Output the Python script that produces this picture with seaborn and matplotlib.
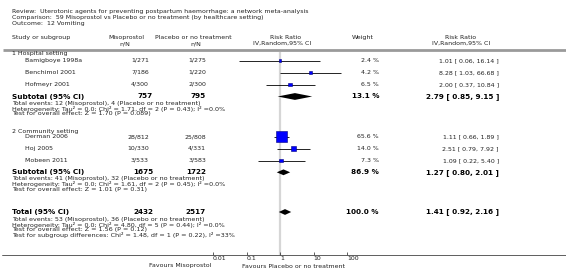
import matplotlib.pyplot as plt
import seaborn as sns
import numpy as np

# study level data
studies = ['Bamigboye 1998a', 'Benchimol 2001', 'Hofmeyr 2001',
           'Derman 2006', 'Hoj 2005', 'Mobeen 2011']
miso_nN = ['1/271', '7/186', '4/300', '28/812', '10/330', '3/533']
plac_nN = ['1/275', '1/220', '2/300', '25/808', '4/331', '3/583']
weights = [2.4, 4.2, 6.5, 65.6, 14.0, 7.3]
rr = [1.01, 8.28, 2.00, 1.11, 2.51, 1.09]
rr_lo = [0.06, 1.03, 0.37, 0.66, 0.79, 0.22]
rr_hi = [16.14, 66.68, 10.84, 1.89, 7.92, 5.40]

# pooled (hospital subtotal, community subtotal, total)
pool_labels = ['Subtotal (95% CI)', 'Subtotal (95% CI)', 'Total (95% CI)']
pool_miso_N = ['757', '1675', '2432']
pool_plac_N = ['795', '1722', '2517']
pool_weight = [13.1, 86.9, 100.0]
pool_rr = [2.79, 1.27, 1.41]
pool_lo = [0.85, 0.80, 0.92]
pool_hi = [9.15, 2.01, 2.16]

groups = ['1 Hospital setting', '2 Community setting']
footnotes = [
    ['Total events: 12 (Misoprostol), 4 (Placebo or no treatment)',
     'Heterogeneity: Tau\u00b2 = 0.0; Chi\u00b2 = 1.71, df = 2 (P = 0.43); I\u00b2 =0.0%',
     'Test for overall effect: Z = 1.70 (P = 0.089)'],
    ['Total events: 41 (Misoprostol), 32 (Placebo or no treatment)',
     'Heterogeneity: Tau\u00b2 = 0.0; Chi\u00b2 = 1.61, df = 2 (P = 0.45); I\u00b2 =0.0%',
     'Test for overall effect: Z = 1.01 (P = 0.31)'],
    ['Total events: 53 (Misoprostol), 36 (Placebo or no treatment)',
     'Heterogeneity: Tau\u00b2 = 0.0; Chi\u00b2 = 4.80, df = 5 (P = 0.44); I\u00b2 =0.0%',
     'Test for overall effect: Z = 1.56 (P = 0.12)',
     'Test for subgroup differences: Chi\u00b2 = 1.48, df = 1 (P = 0.22), I\u00b2 =33%'],
]
title_lines = [
    'Review:  Uterotonic agents for preventing postpartum haemorrhage: a network meta-analysis',
    'Comparison:  59 Misoprostol vs Placebo or no treatment (by healthcare setting)',
    'Outcome:  12 Vomiting',
]
xtick_vals = [0.01, 0.1, 1, 10, 100]
xtick_labels = ['0.01', '0.1', '1', '10', '100']

# layout (pixel rows, top = 0)
W, H = 566, 272
group_y = [53.5, 131]
study_y = [60.5, 72.5, 84.5, 136.7, 148.5, 160.5]
pool_y = [96.5, 172.3, 212]
foot_y = [[103, 108.5, 114], [178.5, 184, 189.5], [219, 224.5, 230, 235.5]]
axis_y = 255

sns.set_theme(style='white')
plt.rcParams['font.family'] = ['DejaVu Sans']

fig = plt.figure(figsize=(W / 100, H / 100), dpi=100)
tx = fig.add_axes([0, 0, 1, 1])
tx.set_xlim(0, W)
tx.set_ylim(H, 0)
tx.axis('off')

TC = '#222222'
FS = 4.5
FSB = 5.2
FSF = 4.6


def put(x, y, s, ha='left', size=FS, bold=False, color=TC):
    tx.text(x, y, s, ha=ha, va='center', fontsize=size,
            fontweight='bold' if bold else 'normal', color=color)


for i, line in enumerate(title_lines):
    put(12, 11.5 + 6 * i, line)

put(12, 37.5, 'Study or subgroup')
put(126, 37.5, 'Misoprostol', ha='center')
put(125, 43.5, 'n/N', ha='center')
put(193, 37.5, 'Placebo or no treatment', ha='center')
put(196, 43.5, 'n/N', ha='center')
put(286, 37.5, 'Risk Ratio', ha='center')
put(282, 43.5, 'IV,Random,95% CI', ha='center')
put(363, 37.5, 'Weight', ha='center')
put(461, 37.5, 'Risk Ratio', ha='center')
put(461, 43.5, 'IV,Random,95% CI', ha='center')

tx.plot([3, W], [49.5, 49.5], color='#9a9a9a', lw=2.0, solid_capstyle='butt')
tx.plot([2, W], [axis_y, axis_y], color='#444444', lw=0.6)

for g, y in zip(groups, group_y):
    put(12, y, g)

for i, s in enumerate(studies):
    y = study_y[i]
    put(25, y, s)
    put(149, y, miso_nN[i], ha='right')
    put(206, y, plac_nN[i], ha='right')
    put(379, y, f'{weights[i]:.1f} %', ha='right')
    put(499, y, f'{rr[i]:.2f} [ {rr_lo[i]:.2f}, {rr_hi[i]:.2f} ]', ha='right')

for i, lab in enumerate(pool_labels):
    y = pool_y[i]
    put(12, y, lab, size=FSB, bold=True, color='black')
    put(153, y, pool_miso_N[i], ha='right', size=FSB, bold=True, color='black')
    put(206, y, pool_plac_N[i], ha='right', size=FSB, bold=True, color='black')
    put(379, y, f'{pool_weight[i]:.1f} %', ha='right', size=FSB, bold=True, color='black')
    put(499, y, f'{pool_rr[i]:.2f} [ {pool_lo[i]:.2f}, {pool_hi[i]:.2f} ]',
        ha='right', size=FSB, bold=True, color='black')
    for line, fy in zip(footnotes[i], foot_y[i]):
        put(12, fy, line, size=FSF)

put(211, 266, 'Favours Misoprostol', ha='right')
put(242, 266, 'Favours Placebo or no treatment')

# forest panel on a log axis: 0.01 -> 213px, 100 -> 347px
fx = fig.add_axes([213 / W, (H - axis_y) / H, 134 / W, axis_y / H])
fx.set_xscale('log')
fx.set_xlim(0.01, 100)
fx.set_ylim(axis_y, 0)
fx.patch.set_alpha(0)
for sp in fx.spines.values():
    sp.set_visible(False)
fx.vlines(1, 52, axis_y, color='#d6d6d6', lw=1.6, zorder=0)

fx.hlines(study_y, rr_lo, rr_hi, color='black', lw=0.6, zorder=2, clip_on=False)
sns.scatterplot(x=rr, y=study_y, size=weights, sizes=(2.3, 63), size_norm=(2.4, 65.6),
                marker='s', color='#0000ff', edgecolor='#000080', linewidth=0.4,
                legend=False, ax=fx, zorder=3, clip_on=False)

for r, lo, hi, y in zip(pool_rr, pool_lo, pool_hi, pool_y):
    hh = 3.4 if y == pool_y[0] else 2.9
    fx.fill([lo, r, hi, r], [y, y - hh, y, y + hh], color='black', lw=0, zorder=3)

fx.set_xticks(xtick_vals)
fx.set_xticklabels(xtick_labels)
fx.minorticks_off()
fx.set_yticks([])
fx.tick_params(axis='x', direction='in', length=2.5, width=0.6, color='#444444',
               pad=1.0, labelsize=FS, labelcolor=TC, bottom=True)
for lab in fx.get_xticklabels():
    lab.set_ha('left')
fx.set_xlabel('')
fx.set_ylabel('')

fig.savefig('out.png', dpi=100)
